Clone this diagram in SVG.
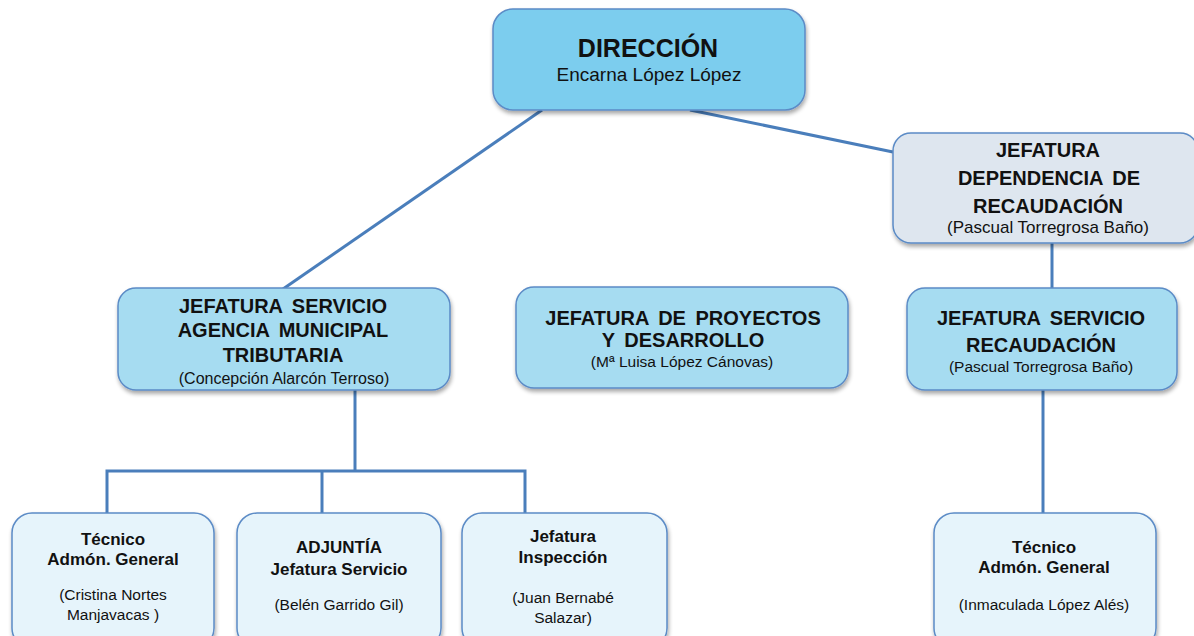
<svg xmlns="http://www.w3.org/2000/svg" width="1194" height="636" viewBox="0 0 1194 636">
<defs>
<filter id="sh" x="-10%" y="-10%" width="125%" height="130%">
<feGaussianBlur in="SourceAlpha" stdDeviation="2"/>
<feOffset dx="1" dy="3" result="b"/>
<feComponentTransfer><feFuncA type="linear" slope="0.35"/></feComponentTransfer>
<feMerge><feMergeNode/><feMergeNode in="SourceGraphic"/></feMerge>
</filter>
<style>
.box{stroke:#5B8BC6;stroke-width:1.5;filter:url(#sh)}
.c1{fill:#7CCDEE}
.c2{fill:#A6DCF1}
.c3{fill:#DEE6EF}
.c4{fill:#E6F4FB}
.t{font-family:"Liberation Sans",Arial,sans-serif;fill:#111;text-anchor:middle}
.h{font-weight:bold;font-size:20px;word-spacing:4px}
.s{font-size:15.5px}
.b{font-weight:bold;font-size:17px}
.p{font-size:15.5px}
.con{stroke:#4A7EBB;stroke-width:3;fill:none}
</style>
</defs>
<rect width="1194" height="636" fill="#FFFFFF"/>
<g id="connectors">
<line class="con" x1="542" y1="110" x2="283" y2="289"/>
<line class="con" x1="690" y1="110" x2="893" y2="152"/>
<line class="con" x1="1052" y1="243" x2="1052" y2="289"/>
<line class="con" x1="1043" y1="390" x2="1043" y2="513"/>
<polyline class="con" points="355,390 355,471"/>
<polyline class="con" points="107,513 107,471 525,471 525,513"/>
<line class="con" x1="322" y1="471" x2="322" y2="513"/>
</g>
<g id="direccion">
<rect class="box c1" x="493" y="9" width="312" height="101" rx="20"/>
<text class="t" x="648" y="57" font-weight="bold" font-size="25">DIRECCIÓN</text>
<text class="t" x="649" y="81" font-size="19">Encarna López López</text>
</g>
<g id="jefatura-dependencia">
<rect class="box c3" x="893" y="133" width="305" height="110" rx="18"/>
<text class="t h" x="1048" y="157">JEFATURA</text>
<text class="t h" x="1049" y="185">DEPENDENCIA DE</text>
<text class="t h" x="1048" y="213">RECAUDACIÓN</text>
<text class="t" x="1048" y="233" font-size="17">(Pascual Torregrosa Baño)</text>
</g>
<g id="jefatura-servicio-recaudacion">
<rect class="box c2" x="907" y="288" width="270" height="102" rx="18"/>
<text class="t h" x="1041" y="325">JEFATURA SERVICIO</text>
<text class="t h" x="1041" y="352">RECAUDACIÓN</text>
<text class="t s" x="1041" y="372">(Pascual Torregrosa Baño)</text>
</g>
<g id="jefatura-amt">
<rect class="box c2" x="118" y="288" width="332" height="102" rx="18"/>
<text class="t h" x="283" y="313">JEFATURA SERVICIO</text>
<text class="t h" x="283" y="337">AGENCIA MUNICIPAL</text>
<text class="t h" x="283" y="362">TRIBUTARIA</text>
<text class="t" x="284" y="384" font-size="16">(Concepción Alarcón Terroso)</text>
</g>
<g id="jefatura-proyectos">
<rect class="box c2" x="516" y="287" width="332" height="101" rx="18"/>
<text class="t h" x="683" y="325">JEFATURA DE PROYECTOS</text>
<text class="t h" x="683" y="347">Y DESARROLLO</text>
<text class="t s" x="682" y="367">(Mª Luisa López Cánovas)</text>
</g>
<g id="tecnico-1">
<rect class="box c4" x="12" y="513" width="202" height="135" rx="20"/>
<text class="t b" x="113" y="545">Técnico</text>
<text class="t b" x="113" y="565">Admón. General</text>
<text class="t p" x="113" y="600">(Cristina Nortes</text>
<text class="t p" x="113" y="620">Manjavacas )</text>
</g>
<g id="adjuntia">
<rect class="box c4" x="237" y="513" width="204" height="135" rx="20"/>
<text class="t b" x="339" y="553">ADJUNTÍA</text>
<text class="t b" x="339" y="575">Jefatura Servicio</text>
<text class="t p" x="339" y="610">(Belén Garrido Gil)</text>
</g>
<g id="jefatura-inspeccion">
<rect class="box c4" x="462" y="513" width="205" height="135" rx="20"/>
<text class="t b" x="563" y="542">Jefatura</text>
<text class="t b" x="563" y="563">Inspección</text>
<text class="t p" x="563" y="603">(Juan Bernabé</text>
<text class="t p" x="563" y="623">Salazar)</text>
</g>
<g id="tecnico-2">
<rect class="box c4" x="934" y="513" width="222" height="135" rx="20"/>
<text class="t b" x="1044" y="553">Técnico</text>
<text class="t b" x="1044" y="573">Admón. General</text>
<text class="t p" x="1044" y="610">(Inmaculada López Alés)</text>
</g>
</svg>
